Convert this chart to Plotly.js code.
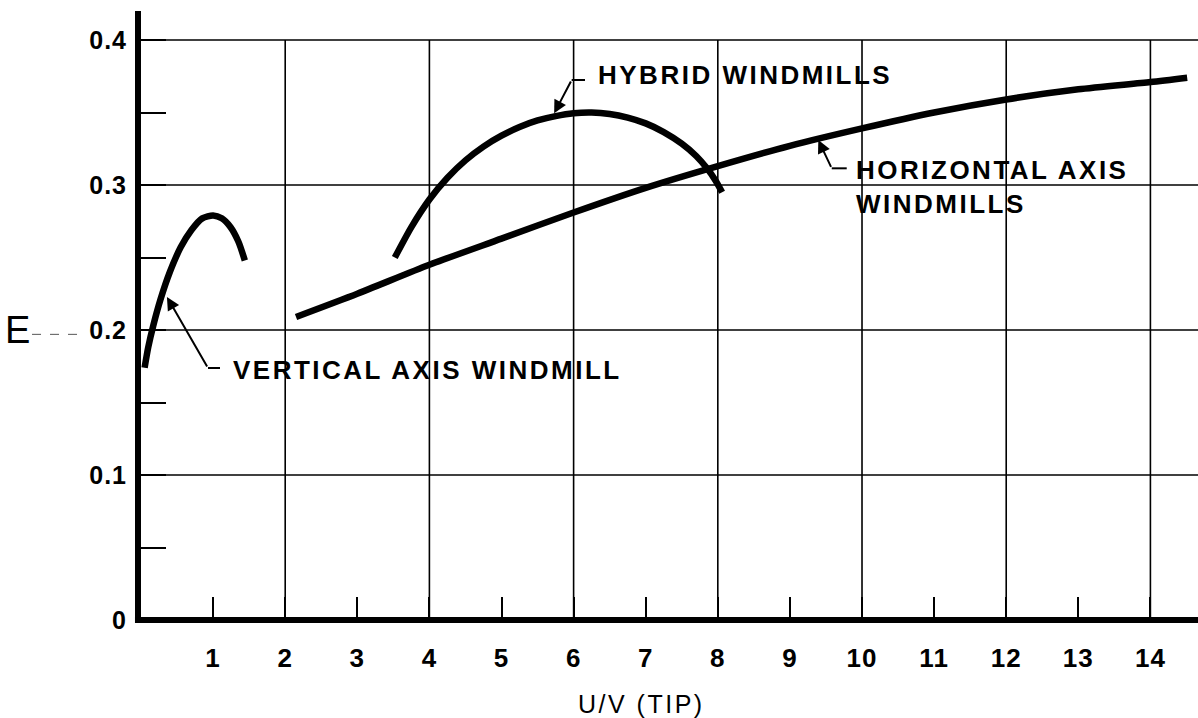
<!DOCTYPE html>
<html>
<head>
<meta charset="utf-8">
<script src="https://cdn.plot.ly/plotly-3.0.1.min.js"></script>
<style>
  html, body { margin: 0; padding: 0; background: #fff; }
  #chart { width: 1198px; height: 718px; }
  .annotation-text { letter-spacing: 2.5px; }
  .xtick text, .ytick text { letter-spacing: 1px; }
</style>
</head>
<body>
<div id="chart"></div>
<script>
// ---- data ----
const xTickVals = [1, 2, 3, 4, 5, 6, 7, 8, 9, 10, 11, 12, 13, 14];
const xTickText = ['1', '2', '3', '4', '5', '6', '7', '8', '9', '10', '11', '12', '13', '14'];
const yTickVals = [0, 0.05, 0.1, 0.15, 0.2, 0.25, 0.3, 0.35, 0.4];
const yTickText = ['0', '', '0.1', '', '0.2', '', '0.3', '', '0.4'];
const xGridVals = [2, 4, 6, 8, 10, 12, 14];
const yGridVals = [0.1, 0.2, 0.3, 0.4];

const vawtX = [0.05, 0.10, 0.17, 0.27, 0.40, 0.55, 0.70, 0.85, 1.00, 1.12, 1.24, 1.35, 1.44];
const vawtY = [0.174, 0.188, 0.203, 0.221, 0.240, 0.257, 0.269, 0.277, 0.279, 0.277, 0.271, 0.261, 0.248];

const hybridX = [3.52, 3.75, 4.00, 4.25, 4.50, 4.75, 5.00, 5.25, 5.50, 5.75, 6.00, 6.25, 6.50, 6.75, 7.00, 7.25, 7.50, 7.70, 7.85, 7.97, 8.06];
const hybridY = [0.250, 0.271, 0.290, 0.305, 0.317, 0.3265, 0.334, 0.340, 0.3445, 0.3475, 0.3495, 0.350, 0.349, 0.3465, 0.3425, 0.3365, 0.3285, 0.320, 0.3115, 0.303, 0.295];

const hawtX = [2.15, 3, 4, 5, 6, 7, 8, 9, 10, 11, 12, 13, 14, 14.51];
const hawtY = [0.209, 0.225, 0.245, 0.263, 0.281, 0.298, 0.313, 0.327, 0.339, 0.350, 0.359, 0.366, 0.371, 0.374];

const labels = {
  vawt: 'VERTICAL AXIS WINDMILL',
  hybrid: 'HYBRID WINDMILLS',
  hawt1: 'HORIZONTAL AXIS',
  hawt2: 'WINDMILLS',
  xTitle: 'U/V (TIP)',
  yTitle: 'E'
};

// ---- styling ----
const INK = '#000';
const FONT = 'Liberation Sans, Arial, Helvetica, sans-serif';
const curveLine = { color: INK, width: 6.5, shape: 'spline', smoothing: 0.7 };

const traces = [
  { x: vawtX, y: vawtY, mode: 'lines', line: curveLine, name: labels.vawt, hoverinfo: 'x+y' },
  { x: hybridX, y: hybridY, mode: 'lines', line: curveLine, name: labels.hybrid, hoverinfo: 'x+y' },
  { x: hawtX, y: hawtY, mode: 'lines', line: curveLine, name: 'HORIZONTAL AXIS WINDMILLS', hoverinfo: 'x+y' }
];

const shapes = [];
xGridVals.forEach(v => shapes.push({
  type: 'line', xref: 'x', yref: 'y', x0: v, x1: v, y0: 0, y1: 0.4,
  line: { color: INK, width: 1.6 }, layer: 'below'
}));
yGridVals.forEach(v => shapes.push({
  type: 'line', xref: 'paper', yref: 'y', x0: 0, x1: 1, y0: v, y1: v,
  line: { color: INK, width: 1.6 }, layer: 'below'
}));
// bottom axis line
shapes.push({ type: 'line', xref: 'paper', yref: 'paper', x0: -0.0057, x1: 1, y0: 0, y1: 0,
  line: { color: INK, width: 6 } });
// leader segments
shapes.push({ type: 'line', xref: 'x', yref: 'y', x0: 0.929, x1: 1.096, y0: 0.1738, y1: 0.1738, line: { color: INK, width: 2 } });
shapes.push({ type: 'line', xref: 'x', yref: 'y', x0: 5.973, x1: 6.158, y0: 0.3724, y1: 0.3724, line: { color: INK, width: 2 } });
shapes.push({ type: 'line', xref: 'x', yref: 'y', x0: 9.58, x1: 9.788, y0: 0.3115, y1: 0.3115, line: { color: INK, width: 2 } });
// E leader
shapes.push({ type: 'line', xref: 'paper', yref: 'y', x0: -0.1031, x1: -0.0549, y0: 0.197, y1: 0.197,
  line: { color: '#555', width: 1, dash: 'dash' } });

const arrow = (hx, hy, tx, ty) => ({
  x: hx, y: hy, ax: tx, ay: ty, xref: 'x', yref: 'y', axref: 'x', ayref: 'y',
  text: '', showarrow: true, arrowhead: 2, arrowsize: 1.3, arrowwidth: 2, arrowcolor: INK, standoff: 0
});
const label = (txt, x, y) => ({
  x: x, y: y, xref: 'x', yref: 'y', text: txt, showarrow: false, xanchor: 'left', yanchor: 'middle',
  font: { family: FONT, size: 26, color: INK, weight: 'bold' }
});

const annotations = [
  arrow(0.36, 0.2228, 0.929, 0.1738),
  arrow(5.73, 0.3494, 5.973, 0.3724),
  arrow(9.394, 0.331, 9.58, 0.3115),
  label(labels.vawt, 1.25, 0.1724),
  label(labels.hybrid, 6.31, 0.3759),
  label(labels.hawt1, 9.89, 0.3103),
  label(labels.hawt2, 9.89, 0.2869),
  { x: 0.4735, y: -0.138, xref: 'paper', yref: 'paper', text: labels.xTitle, showarrow: false,
    xanchor: 'center', yanchor: 'middle', font: { family: FONT, size: 25, color: INK } },
  { x: -0.1154, y: 0.2, xref: 'paper', yref: 'y', text: labels.yTitle, showarrow: false,
    xanchor: 'center', yanchor: 'middle', font: { family: FONT, size: 38, color: INK } }
];

const layout = {
  width: 1198, height: 718,
  margin: { l: 141, r: 0, t: 11, b: 98, pad: 0 },
  paper_bgcolor: '#fff', plot_bgcolor: '#fff',
  showlegend: false,
  font: { family: FONT, color: INK },
  xaxis: {
    range: [0, 14.66], showgrid: false, zeroline: false, showline: false,
    tickmode: 'array', tickvals: xTickVals, ticktext: xTickText,
    ticks: 'inside', ticklen: 23, tickwidth: 2, tickcolor: INK,
    ticklabelstandoff: 20,
    tickfont: { family: FONT, size: 26, color: INK, weight: 'bold' }
  },
  yaxis: {
    range: [0, 0.42], showgrid: false, zeroline: false,
    showline: true, linewidth: 6, linecolor: INK,
    tickmode: 'array', tickvals: yTickVals, ticktext: yTickText,
    ticks: 'inside', ticklen: 25, tickwidth: 2, tickcolor: INK,
    ticklabelstandoff: 3,
    tickfont: { family: FONT, size: 25, color: INK, weight: 'bold' }
  },
  shapes: shapes,
  annotations: annotations
};

Plotly.newPlot('chart', traces, layout, { displayModeBar: false, staticPlot: true });
</script>
</body>
</html>
